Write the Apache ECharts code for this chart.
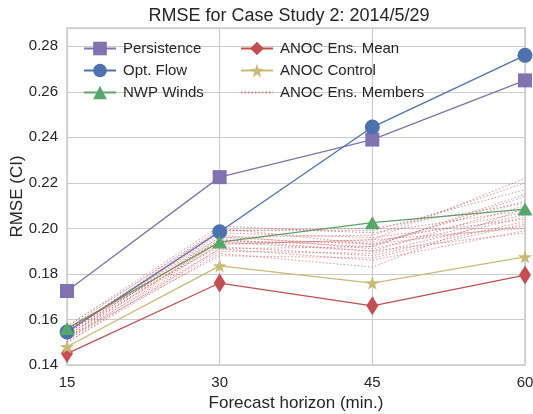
<!DOCTYPE html>
<html>
<head>
<meta charset="utf-8">
<script src="https://cdn.jsdelivr.net/npm/echarts@6/dist/echarts.min.js"></script>
<style>html,body{margin:0;padding:0;background:#fff}#c{width:533px;height:414px}</style>
</head>
<body>
<div id="c"></div>
<script>
const horizons = [15, 30, 45, 60];
const persistence = [0.1725, 0.2225, 0.239, 0.265];
const optFlow = [0.1545, 0.1985, 0.2445, 0.276];
const nwpWinds = [0.156, 0.194, 0.2025, 0.2085];
const ensMean = [0.145, 0.176, 0.166, 0.1795];
const control = [0.148, 0.1835, 0.176, 0.1875];
const ensMembers = [
  [0.151, 0.193, 0.195, 0.222],
  [0.153, 0.196, 0.197, 0.220],
  [0.155, 0.199, 0.199, 0.217],
  [0.152, 0.191, 0.192, 0.215],
  [0.156, 0.200, 0.193, 0.212],
  [0.154, 0.195, 0.190, 0.210],
  [0.150, 0.189, 0.183, 0.209],
  [0.157, 0.201, 0.198, 0.208],
  [0.153, 0.194, 0.194, 0.207],
  [0.155, 0.197, 0.191, 0.206],
  [0.151, 0.190, 0.189, 0.205],
  [0.154, 0.198, 0.196, 0.204],
  [0.156, 0.192, 0.188, 0.203],
  [0.152, 0.188, 0.187, 0.202],
  [0.155, 0.196, 0.193, 0.201],
  [0.153, 0.193, 0.195, 0.200],
  [0.150, 0.191, 0.186, 0.199],
  [0.157, 0.199, 0.200, 0.211],
  [0.154, 0.195, 0.192, 0.214],
  [0.152, 0.194, 0.190, 0.198]
];
const yTicks = [0.14, 0.16, 0.18, 0.20, 0.22, 0.24, 0.26, 0.28];

const FONT = '"Liberation Sans", Arial, sans-serif';
const TXT = '#262626';
const STAR = 'path://M0,-10 L2.35,-3.24 L9.51,-3.09 L3.8,1.24 L5.88,8.09 L0,4 L-5.88,8.09 L-3.8,1.24 L-9.51,-3.09 L-2.35,-3.24 Z';

function pts(vals) { return horizons.map((h, i) => [h, vals[i]]); }

function mainSeries(name, vals, color, symbol, size) {
  return {
    name: name, type: 'line', data: pts(vals),
    symbol: symbol, symbolSize: size, symbolKeepAspect: true,
    showSymbol: true,
    lineStyle: { color: color, width: 1.3 },
    itemStyle: { color: color },
    emphasis: { disabled: true },
    animation: false, clip: true
  };
}

const series = [
  mainSeries('Persistence', persistence, '#8172B2', 'rect', 14),
  mainSeries('Opt. Flow', optFlow, '#4C72B0', 'circle', 15),
  mainSeries('NWP Winds', nwpWinds, '#55A868', 'triangle', [15, 13]),
  mainSeries('ANOC Ens. Mean', ensMean, '#C44E52', 'diamond', [12, 19]),
  mainSeries('ANOC Control', control, '#CCB974', STAR, 14)
];
ensMembers.forEach(m => {
  series.push({
    name: 'ANOC Ens. Members', type: 'line', data: pts(m),
    symbol: 'none', showSymbol: false,
    lineStyle: { color: 'rgba(196,78,82,0.6)', width: 1, type: [1.5, 2] },
    itemStyle: { color: 'rgba(196,78,82,0.6)' },
    emphasis: { disabled: true }, animation: false
  });
});

const legendCommon = {
  orient: 'vertical', itemWidth: 32, itemHeight: 17, itemGap: 7,
  textStyle: { fontFamily: FONT, fontSize: 15, color: TXT, padding: [0, 0, 0, 2] },
  backgroundColor: 'transparent', borderWidth: 0, selectedMode: false
};

const chart = echarts.init(document.getElementById('c'), null, { renderer: 'canvas' });
chart.setOption({
  backgroundColor: '#ffffff',
  animation: false,
  title: {
    text: 'RMSE for Case Study 2: 2014/5/29', left: 284, top: 2, textAlign: 'center',
    textStyle: { fontFamily: FONT, fontSize: 18, fontWeight: 'normal', color: TXT }
  },
  grid: { left: 67, right: 8, top: 28, bottom: 49, show: true, borderColor: '#cccccc', borderWidth: 1.5,
    backgroundColor: '#ffffff', containLabel: false, outerBoundsMode: 'none' },
  legend: [
    Object.assign({ left: 78, top: 36, data: ['Persistence', 'Opt. Flow', 'NWP Winds'] }, legendCommon),
    Object.assign({ left: 235, top: 36, data: ['ANOC Ens. Mean', 'ANOC Control',
      { name: 'ANOC Ens. Members', itemStyle: { opacity: 0 } }] }, legendCommon)
  ],
  xAxis: {
    type: 'value', min: horizons[0], max: horizons[horizons.length - 1], interval: 15,
    name: 'Forecast horizon (min.)', nameLocation: 'middle', nameGap: 30,
    nameTextStyle: { fontFamily: FONT, fontSize: 17, color: TXT },
    axisLine: { show: false }, axisTick: { show: false },
    axisLabel: { fontFamily: FONT, fontSize: 15, color: TXT, margin: 10 },
    splitLine: { show: true, lineStyle: { color: '#cccccc', width: 1.2 } }
  },
  yAxis: {
    type: 'value', min: yTicks[0], max: 0.288, interval: 0.02,
    name: 'RMSE (CI)', nameLocation: 'middle', nameGap: 41, nameMoveOverlap: false,
    nameTextStyle: { fontFamily: FONT, fontSize: 17, color: TXT },
    axisLine: { show: false }, axisTick: { show: false },
    axisLabel: { fontFamily: FONT, fontSize: 15, color: TXT, margin: 9, showMaxLabel: false,
      formatter: v => v.toFixed(2) },
    splitLine: { show: true, lineStyle: { color: '#cccccc', width: 1.2 } }
  },
  series: series
});
</script>
</body>
</html>
